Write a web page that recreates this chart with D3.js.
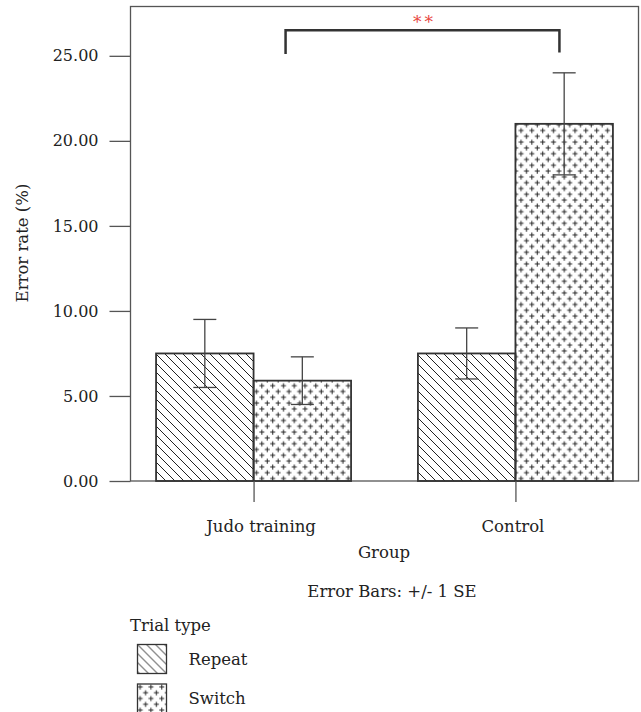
<!DOCTYPE html>
<html>
<head>
<meta charset="utf-8">
<script src="https://cdn.jsdelivr.net/npm/d3@7"></script>
<style>
  body { margin: 0; background: #fff; }
  text { font-family: "DejaVu Serif", "Liberation Serif", serif; fill: #222; }
</style>
</head>
<body>
<script>
var groups = ["Judo training", "Control"];
var trialTypes = ["Repeat", "Switch"];
var repeatMean = [7.5, 7.5];
var switchMean = [5.9, 21.0];
var repeatSE = [2.0, 1.5];
var switchSE = [1.4, 3.0];
var yTicks = [0, 5, 10, 15, 20, 25];

var svgWidth = 641;
var svgHeight = 712;
var plotL = 130.5, plotR = 638.5, plotT = 6.5, plotB = 481;

var svg = d3.select("body").append("svg")
  .attr("width", svgWidth).attr("height", svgHeight);

var defs = svg.append("defs");

// diagonal hatch for Repeat
var hatch = defs.append("pattern").attr("id", "hatch")
  .attr("patternUnits", "userSpaceOnUse")
  .attr("width", 9).attr("height", 9);
hatch.append("path")
  .attr("d", "M0,0L9,9M-3,6L3,12M6,-3L12,3")
  .attr("stroke", "#222").attr("stroke-width", 1);

// staggered plus signs for Switch
var cross = defs.append("pattern").attr("id", "cross")
  .attr("patternUnits", "userSpaceOnUse")
  .attr("width", 10.8).attr("height", 11.6);
cross.append("path")
  .attr("d", "M0.2,3h5M2.7,0.5v5M5.6,8.8h5M8.1,6.3v5")
  .attr("stroke", "#222").attr("stroke-width", 1);

var fills = { Repeat: "url(#hatch)", Switch: "url(#cross)" };

var data = [];
groups.forEach(function(g, i) {
  data.push({ group: g, type: "Repeat", mean: repeatMean[i], se: repeatSE[i] });
  data.push({ group: g, type: "Switch", mean: switchMean[i], se: switchSE[i] });
});

var y = d3.scaleLinear().domain([0, 27.9]).range([plotB, plotT]);
var xg = d3.scalePoint().domain(groups).range([plotL, plotR]).padding(0.47);
var barW = 97.5;
var xt = d3.scaleBand().domain(trialTypes).range([-barW, barW]);

// frame
svg.append("rect")
  .attr("x", plotL).attr("y", plotT)
  .attr("width", plotR - plotL).attr("height", plotB - plotT)
  .attr("fill", "none").attr("stroke", "#555").attr("stroke-width", 1.3);

// y axis
var yAxis = svg.append("g").attr("transform", "translate(" + plotL + ",0)")
  .call(d3.axisLeft(y).tickValues(yTicks).tickFormat(d3.format(".2f"))
    .tickSize(21).tickPadding(11));
yAxis.select(".domain").remove();
yAxis.selectAll("line").attr("stroke", "#555").attr("stroke-width", 1.3);
yAxis.selectAll("text").attr("font-size", "16px").attr("font-family", null).attr("fill", "#222");

// bars
svg.selectAll("rect.bar").data(data).enter()
  .append("rect").attr("class", "bar")
  .attr("x", function(d) { return xg(d.group) + xt(d.type); })
  .attr("y", function(d) { return y(d.mean); })
  .attr("width", xt.bandwidth())
  .attr("height", function(d) { return plotB - y(d.mean); })
  .attr("fill", function(d) { return fills[d.type]; })
  .attr("stroke", "#333").attr("stroke-width", 1.8);

// x axis ticks + labels
var xAxis = svg.append("g").attr("transform", "translate(0," + plotB + ")")
  .call(d3.axisBottom(xg).tickSize(21).tickPadding(18));
xAxis.select(".domain").remove();
xAxis.selectAll("line").attr("stroke", "#555").attr("stroke-width", 1.3);
xAxis.selectAll("text").attr("font-size", "16.5px").attr("font-family", null).attr("fill", "#222")
  .attr("dx", function(d, i) { return i === 0 ? 7 : -3; });

// error bars
var eb = svg.selectAll("g.err").data(data).enter().append("g").attr("class", "err")
  .attr("stroke", "#444").attr("stroke-width", 1.3);
eb.append("line")
  .attr("x1", function(d) { return xg(d.group) + xt(d.type) + xt.bandwidth() / 2; })
  .attr("x2", function(d) { return xg(d.group) + xt(d.type) + xt.bandwidth() / 2; })
  .attr("y1", function(d) { return y(d.mean + d.se); })
  .attr("y2", function(d) { return y(d.mean - d.se); });
[1, -1].forEach(function(s) {
  eb.append("line")
    .attr("x1", function(d) { return xg(d.group) + xt(d.type) + xt.bandwidth() / 2 - 11.5; })
    .attr("x2", function(d) { return xg(d.group) + xt(d.type) + xt.bandwidth() / 2 + 11.5; })
    .attr("y1", function(d) { return y(d.mean + s * d.se); })
    .attr("y2", function(d) { return y(d.mean + s * d.se); });
});

// significance bracket
var bx1 = xg("Judo training") + 32, bx2 = xg("Control") + 44;
svg.append("path")
  .attr("d", "M" + bx1 + "," + y(25.1) + "V" + y(26.5) + "H" + bx2 + "V" + y(25.2))
  .attr("fill", "none").attr("stroke", "#333").attr("stroke-width", 2.5);
svg.append("text").text("**")
  .attr("x", (bx1 + bx2) / 2 + 2).attr("y", 28)
  .attr("text-anchor", "middle").attr("font-size", "17px")
  .attr("letter-spacing", "3px")
  .style("fill", "#e8463f");

// y title
svg.append("text").text("Error rate (%)")
  .attr("transform", "translate(28,243) rotate(-90)")
  .attr("text-anchor", "middle").attr("font-size", "16.5px");

// x title + note
svg.append("text").text("Group")
  .attr("x", 384).attr("y", 558)
  .attr("text-anchor", "middle").attr("font-size", "16.5px");
svg.append("text").text("Error Bars: +/- 1 SE")
  .attr("x", 392).attr("y", 597)
  .attr("text-anchor", "middle").attr("font-size", "16.5px");

// legend
svg.append("text").text("Trial type")
  .attr("x", 130).attr("y", 631).attr("font-size", "16.5px");
var leg = svg.selectAll("g.leg").data(trialTypes).enter().append("g").attr("class", "leg")
  .attr("transform", function(d, i) { return "translate(137.5," + (644.5 + i * 39.5) + ")"; });
leg.append("rect")
  .attr("width", 29).attr("height", 29)
  .attr("fill", function(d) { return fills[d]; })
  .attr("stroke", "#333").attr("stroke-width", 1.3);
leg.append("text").text(function(d) { return d; })
  .attr("x", 51).attr("y", 20).attr("font-size", "16.5px");
</script>
</body>
</html>
